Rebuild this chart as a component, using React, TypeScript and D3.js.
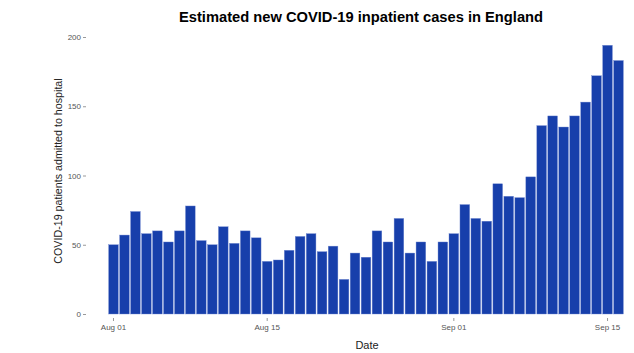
import { useRef, useEffect } from 'react';
import * as d3 from 'd3';

// daily admissions, Aug 01 -> Sep 16
const startDate = new Date(2020, 7, 1);
const admissions = [
  50, 57, 74, 58, 60, 52, 60, 78, 53, 50,
  63, 51, 60, 55, 38, 39, 46, 56, 58, 45,
  49, 25, 44, 41, 60, 52, 69, 44, 52, 38,
  52, 58, 79, 69, 67, 94, 85, 84, 99, 136,
  143, 135, 143, 153, 172, 194, 183
];
const yTicks = [0, 50, 100, 150, 200];
const xTickDates = ["2020-08-01", "2020-08-15", "2020-09-01", "2020-09-15"];

const title = "Estimated new COVID-19 inpatient cases in England";
const yLabel = "COVID-19 patients admitted to hospital";
const xLabel = "Date";

export default function App() {
  const svgRef = useRef<SVGSVGElement>(null);

  useEffect(() => {
    const width = 634;
    const height = 353;
    const margin = { top: 37, right: 10, bottom: 39, left: 108 };

    const svg = d3.select(svgRef.current);
    svg.selectAll("*").remove();

    const fmt = d3.timeFormat("%Y-%m-%d");
    const data = admissions.map((v, i) => ({
      date: fmt(d3.timeDay.offset(startDate, i)),
      value: v
    }));

    const font = "'Liberation Sans', Arial, Helvetica, sans-serif";

    const x = d3.scaleBand()
      .domain(data.map(d => d.date))
      .range([margin.left, width - margin.right])
      .paddingInner(0.12)
      .paddingOuter(0.06);

    const y = d3.scaleLinear()
      .domain([0, 200])
      .range([height - margin.bottom, margin.top]);

    // title
    svg.append("text")
      .attr("x", 361)
      .attr("y", 22)
      .attr("text-anchor", "middle")
      .attr("font-family", font)
      .attr("font-size", 14.7)
      .attr("font-weight", "bold")
      .attr("fill", "#000")
      .text(title);

    // bars
    svg.append("g")
      .selectAll("rect")
      .data(data)
      .join("rect")
      .attr("x", d => x(d.date)!)
      .attr("y", d => y(d.value))
      .attr("width", x.bandwidth())
      .attr("height", d => y(0) - y(d.value))
      .attr("fill", "#173fab")
      .attr("stroke", "#6f87cf")
      .attr("stroke-width", 0.4);

    // y axis (no line, just ticks)
    const yAxis = svg.append("g")
      .attr("transform", `translate(86,0)`)
      .call(d3.axisLeft(y).tickValues(yTicks).tickSize(3).tickPadding(2));
    yAxis.select(".domain").remove();
    yAxis.selectAll("line").attr("stroke", "#555").attr("stroke-width", 0.6);
    yAxis.selectAll("text")
      .attr("font-family", font)
      .attr("font-size", 8)
      .attr("fill", "#555");

    // x axis
    const xAxis = svg.append("g")
      .attr("transform", `translate(0,${height - margin.bottom + 4})`)
      .call(d3.axisBottom(x)
        .tickValues(xTickDates)
        .tickSize(3)
        .tickPadding(3)
        .tickFormat(d => d3.timeFormat("%b %d")(d3.timeParse("%Y-%m-%d")(d as string)!)));
    xAxis.select(".domain").remove();
    xAxis.selectAll("line").attr("stroke", "#555").attr("stroke-width", 0.6);
    xAxis.selectAll("text")
      .attr("font-family", font)
      .attr("font-size", 8)
      .attr("fill", "#555");

    // axis titles
    svg.append("text")
      .attr("transform", "rotate(-90)")
      .attr("x", -171)
      .attr("y", 62)
      .attr("text-anchor", "middle")
      .attr("font-family", font)
      .attr("font-size", 10.7)
      .attr("fill", "#222")
      .text(yLabel);

    svg.append("text")
      .attr("x", 367)
      .attr("y", 349)
      .attr("text-anchor", "middle")
      .attr("font-family", font)
      .attr("font-size", 11)
      .attr("fill", "#222")
      .text(xLabel);
  }, []);

  return (
    <svg
      ref={svgRef}
      width={634}
      height={353}
      style={{ position: 'absolute', left: 0, top: 0, background: '#fff' }}
    />
  );
}
